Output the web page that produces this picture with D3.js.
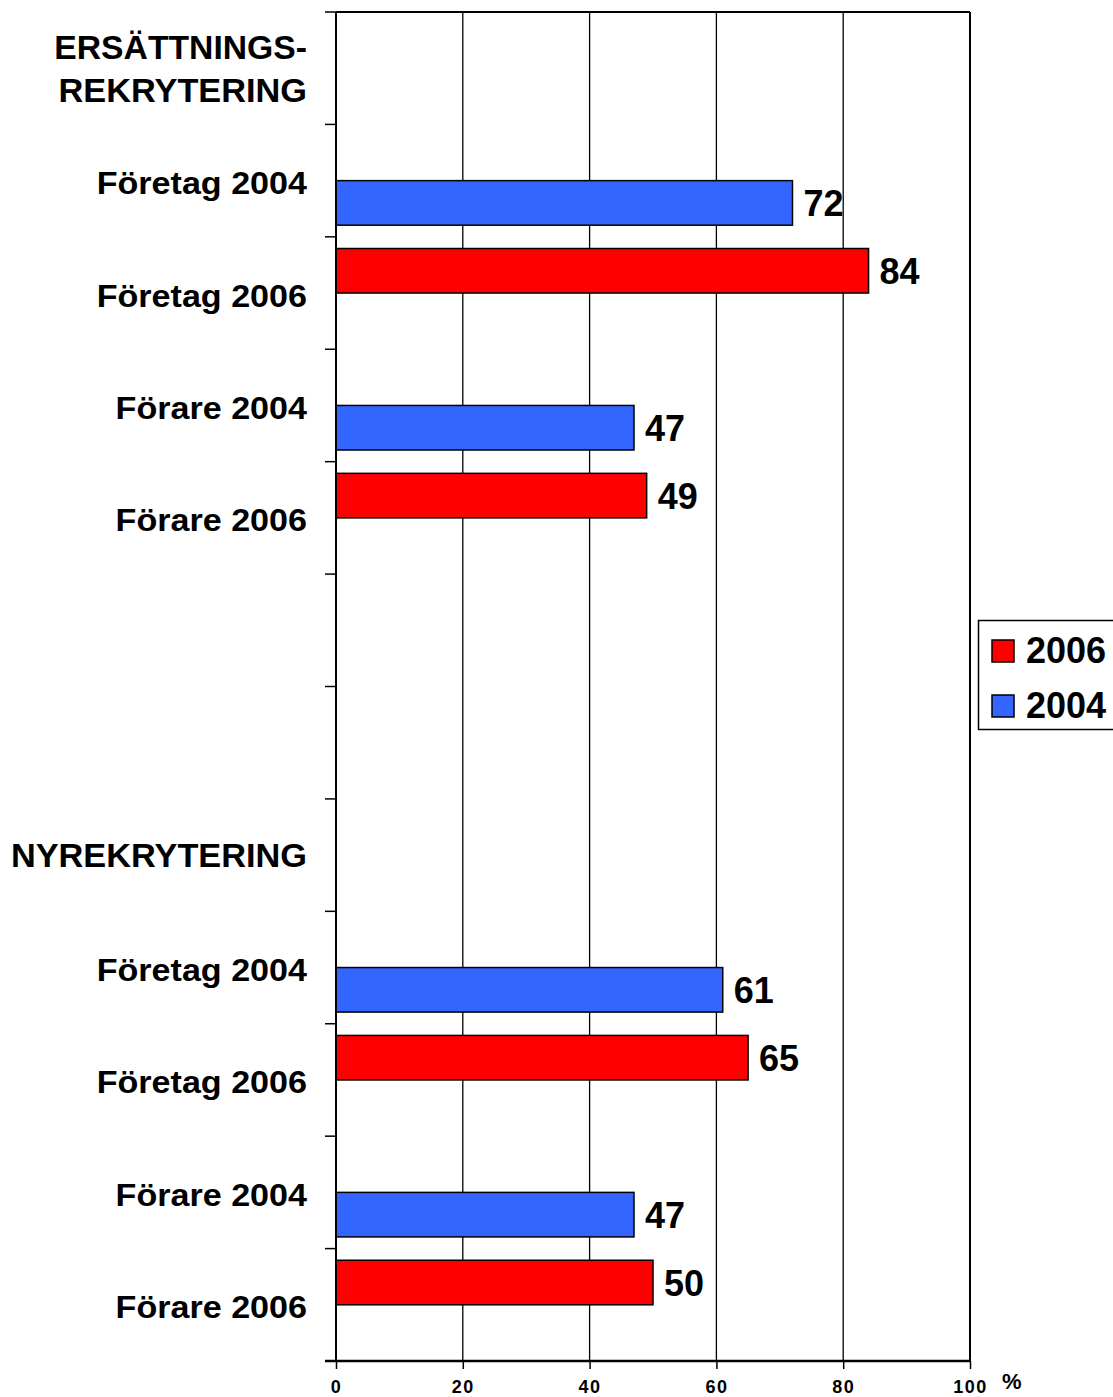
<!DOCTYPE html>
<html>
<head>
<meta charset="utf-8">
<script src="https://cdn.jsdelivr.net/npm/d3@7"></script>
<style>
  html, body { margin: 0; padding: 0; background: #fff; }
  svg { display: block; }
  text { font-family: "Liberation Sans", Arial, sans-serif; font-weight: bold; fill: #000; }
</style>
</head>
<body>
<script>
// ---- data ----
const categories = [
  "ERSÄTTNINGS-|REKRYTERING", "Företag 2004", "Företag 2006", "Förare 2004", "Förare 2006",
  "", "", "NYREKRYTERING", "Företag 2004", "Företag 2006", "Förare 2004", "Förare 2006"
];
const headerRows = [0, 7];
const seriesNames = ["2006", "2004"];
const values2006 = [null, null, 84, null, 49, null, null, null, null, 65, null, 50];
const values2004 = [null, 72, null, 47, null, null, null, null, 61, null, 47, null];
const xTicks = [0, 20, 40, 60, 80, 100];
const colors = { "2006": "#FF0000", "2004": "#3366FF" };

// ---- layout ----
const W = 1113, H = 1397;
const pLeft = 336, pRight = 970, pTop = 12, pBottom = 1361;

const svg = d3.select("body").append("svg").attr("width", W).attr("height", H);

const x = d3.scaleLinear().domain([0, 100]).range([pLeft, pRight]);
const idx = d3.range(categories.length);
const y = d3.scaleBand().domain(idx).range([pTop, pBottom]).paddingInner(0).paddingOuter(0);
const ySub = d3.scaleBand().domain(seriesNames).range([0, y.bandwidth()]).paddingInner(0).paddingOuter(0.262);

// gridlines
svg.append("g").selectAll("line").data(xTicks.filter(d => d > 0 && d < 100)).join("line")
  .attr("x1", d => x(d)).attr("x2", d => x(d))
  .attr("y1", pTop).attr("y2", pBottom)
  .attr("stroke", "#000").attr("stroke-width", 1.3);

// top border & right border
svg.append("line").attr("x1", pLeft).attr("x2", pRight).attr("y1", pTop).attr("y2", pTop)
  .attr("stroke", "#000").attr("stroke-width", 2);
svg.append("line").attr("x1", pRight).attr("x2", pRight).attr("y1", pTop).attr("y2", pBottom)
  .attr("stroke", "#000").attr("stroke-width", 2);

// bars
const barData = [];
idx.forEach(i => {
  if (values2006[i] != null) barData.push({ i, s: "2006", v: values2006[i] });
  if (values2004[i] != null) barData.push({ i, s: "2004", v: values2004[i] });
});
svg.append("g").selectAll("rect").data(barData).join("rect")
  .attr("x", x(0))
  .attr("y", d => y(d.i) + ySub(d.s))
  .attr("width", d => x(d.v) - x(0))
  .attr("height", ySub.bandwidth())
  .attr("fill", d => colors[d.s])
  .attr("stroke", "#000").attr("stroke-width", 1.5);

// value labels
svg.append("g").selectAll("text").data(barData).join("text")
  .attr("x", d => x(d.v) + 11)
  .attr("y", d => y(d.i) + ySub(d.s) + ySub.bandwidth() / 2 + 13)
  .attr("font-size", 36)
  .text(d => d.v);

// y axis line and ticks
svg.append("line").attr("x1", pLeft).attr("x2", pLeft).attr("y1", pTop).attr("y2", pBottom)
  .attr("stroke", "#000").attr("stroke-width", 2);
const yTickPos = idx.map(i => y(i)).concat([pBottom]);
svg.append("g").selectAll("line").data(yTickPos).join("line")
  .attr("x1", pLeft - 11).attr("x2", pLeft)
  .attr("y1", d => d).attr("y2", d => d)
  .attr("stroke", "#000").attr("stroke-width", 1.5);

// x axis
const xAxis = svg.append("g").attr("transform", `translate(0,${pBottom})`)
  .call(d3.axisBottom(x).tickValues(xTicks).tickSize(8).tickSizeOuter(0).tickPadding(11));
xAxis.select(".domain").remove();
xAxis.selectAll(".tick line").attr("stroke", "#000").attr("stroke-width", 1.5);
xAxis.selectAll(".tick text")
  .attr("font-size", 18).attr("font-family", "Liberation Sans, Arial, sans-serif")
  .attr("font-weight", "bold").attr("fill", "#000").attr("letter-spacing", 1.5);
svg.append("line").attr("x1", pLeft - 11).attr("x2", pRight).attr("y1", pBottom).attr("y2", pBottom)
  .attr("stroke", "#000").attr("stroke-width", 2.5);
svg.append("text").attr("x", 1002).attr("y", 1389).attr("font-size", 22).text("%");

// category labels
idx.forEach(i => {
  const label = categories[i];
  if (!label) return;
  const cy = y(i) + y.bandwidth() / 2;
  if (headerRows.includes(i)) {
    const lines = label.split("|");
    const lh = 43;
    lines.forEach((ln, k) => {
      const by = cy + 12 + (k - (lines.length - 1) / 2) * lh;
      const g = svg.append("g").attr("transform", `translate(307,${by}) scale(1.04,1)`);
      const t = g.append("text").attr("x", 0).attr("y", 0).attr("font-size", 33)
        .attr("text-anchor", "end").text(ln);
      if (ln === "ERSÄTTNINGS-") t.attr("textLength", 243).attr("lengthAdjust", "spacingAndGlyphs");
    });
  } else {
    const g = svg.append("g").attr("transform", `translate(307,${cy + 13.5}) scale(1.1,1)`);
    g.append("text").attr("x", 0).attr("y", 0).attr("font-size", 31)
      .attr("text-anchor", "end").text(label);
  }
});

// legend
const legend = svg.append("g");
legend.append("rect").attr("x", 978.5).attr("y", 620.5).attr("width", 150).attr("height", 109)
  .attr("fill", "#fff").attr("stroke", "#000").attr("stroke-width", 1.5);
seriesNames.forEach((s, k) => {
  const by = 663 + k * 55;
  legend.append("rect").attr("x", 992).attr("y", by - 23).attr("width", 22).attr("height", 22)
    .attr("fill", colors[s]).attr("stroke", "#000").attr("stroke-width", 1.5);
  legend.append("text").attr("x", 1026).attr("y", by).attr("font-size", 36).text(s);
});
</script>
</body>
</html>
